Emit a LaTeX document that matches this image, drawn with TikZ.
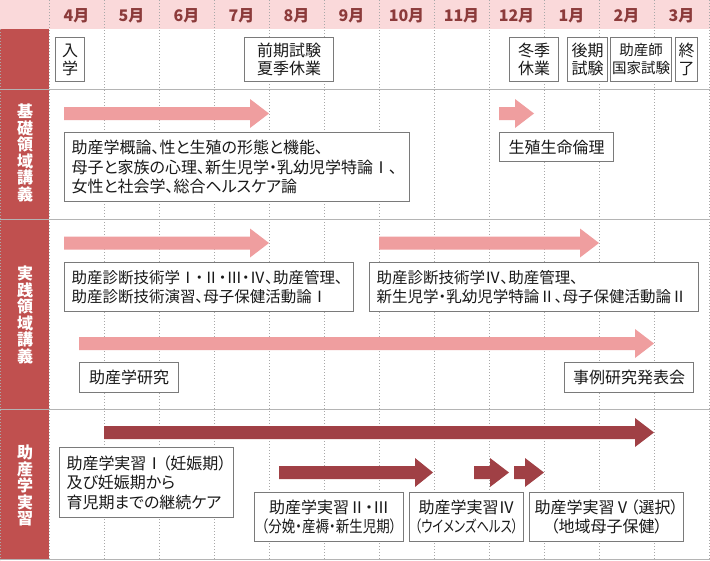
\documentclass[tikz,border=0pt]{standalone}
\usepackage{graphicx}
\usepackage{fontspec}
\newfontfamily\jpfont[RawFeature={+palt}]{Noto Sans CJK JP}
\definecolor{hdrpink}{HTML}{FAD9DA}
\definecolor{colred}{HTML}{C0504F}
\definecolor{arrpink}{HTML}{EF9E9F}
\definecolor{arrdark}{HTML}{A04045}
\definecolor{monthred}{HTML}{8C3B3B}
\definecolor{gridgray}{HTML}{A8A8A8}
\definecolor{linegray}{HTML}{B4B4B4}
\definecolor{boxgray}{HTML}{7A7A7A}
\newcommand\tlarrow[5]{\fill[#5] (#1,#4-6.5) -- (#2,#4-6.5) -- (#2,#4-14.5) -- (#3,#4) -- (#2,#4+14.5) -- (#2,#4+6.5) -- (#1,#4+6.5) -- cycle;}
\newcommand\fitline[2]{\resizebox{#1}{\height}{#2}}
\begin{document}
\begin{tikzpicture}[x=1pt,y=-1pt,
  box/.style={draw=boxgray, line width=1pt, fill=white, inner sep=0pt, align=center, text=black!90,
    font=\jpfont\fontsize{16}{18.5}\selectfont},
  topbox/.style={box, font=\jpfont\fontsize{16}{18}\selectfont},
  leftbox/.style={box, align=left, inner xsep=7pt, font=\jpfont\fontsize{16}{19.5}\selectfont},
  month/.style={font=\jpfont\bfseries\fontsize{16}{16}\selectfont, text=monthred},
  sidelabel/.style={font=\jpfont\bfseries\fontsize{16}{16.5}\selectfont, text=white, align=center},
  gridline/.style={draw=gridgray, line width=0.8pt, dash pattern=on 1pt off 2pt},
  rowline/.style={draw=linegray, line width=1pt}
]
\useasboundingbox (0,0) rectangle (710,560);
\fill[white] (0,0) rectangle (710,560);
% header and side column
\fill[hdrpink] (0,0) rectangle (710,29);
\fill[colred] (0,29) rectangle (49,560);
% dotted month grid
\foreach \k in {0,...,12} {
  \draw[gridline] ({49+55*\k},0) -- ({49+55*\k},560);
}
\draw[gridline] (0.5,29) -- (0.5,560);
% row separators
\foreach \yy in {89,219,409,559} {
  \draw[rowline] (0,\yy) -- (710,\yy);
}
% months
\foreach \m [count=\i from 0] in {4月,5月,6月,7月,8月,9月,10月,11月,12月,1月,2月,3月} {
  \node[month] (m\i) at ({76.5+55*\i},15.5) {\m};
}
% side labels
\node[sidelabel] (s1) at (25,153) {基\\礎\\領\\域\\講\\義};
\node[sidelabel] (s2) at (25,315) {実\\践\\領\\域\\講\\義};
\node[sidelabel] (s3) at (25,485.5) {助\\産\\学\\実\\習};
% top row events
\node[topbox, minimum width=29, minimum height=44, anchor=north west] (t1) at (55,37) {入\\学};
\node[topbox, minimum width=89, minimum height=44, anchor=north west] (t2) at (244,37) {前期試験\\夏季休業};
\node[topbox, minimum width=49, minimum height=44, anchor=north west] (t3) at (509,37) {冬季\\休業};
\node[topbox, minimum width=40, minimum height=44, anchor=north west] (t4) at (567,37) {後期\\試験};
\node[topbox, minimum width=61, minimum height=44, anchor=north west, font=\jpfont\fontsize{14.5}{18}\selectfont] (t5) at (610,37) {助産師\\国家試験};
\node[topbox, minimum width=22, minimum height=44, anchor=north west] (t6) at (675,37) {終\\了};
% arrows
\tlarrow{64}{250}{269}{113.5}{arrpink}
\tlarrow{499}{515}{534}{113.5}{arrpink}
\tlarrow{64}{250}{269}{243}{arrpink}
\tlarrow{379}{580}{599}{243}{arrpink}
\tlarrow{79}{635}{654}{343.5}{arrpink}
\tlarrow{104}{635}{654}{432.5}{arrdark}
\tlarrow{279}{415}{433}{472.5}{arrdark}
\tlarrow{474}{490}{509}{472.5}{arrdark}
\tlarrow{514}{525}{544}{472.5}{arrdark}
% basic lectures
\node[leftbox, text width=331, minimum height=69, anchor=north west] (b1) at (64,132)
  {助産学概論、性と生殖の形態と機能、\\母子と家族の心理、新生児学・乳幼児学特論Ⅰ、\\女性と社会学、総合ヘルスケア論};
\node[box, minimum width=114, minimum height=29, anchor=north west] (b2) at (499,132) {生殖生命倫理};
% practical lectures
\node[leftbox, text width=275, minimum height=49, anchor=north west, font=\jpfont\fontsize{15.5}{19}\selectfont] (p1) at (64,262)
  {助産診断技術学Ⅰ・Ⅱ・Ⅲ・Ⅳ、助産管理、\\助産診断技術演習、母子保健活動論Ⅰ};
\node[leftbox, text width=315, minimum height=49, anchor=north west, font=\jpfont\fontsize{15.5}{19}\selectfont] (p2) at (369,262)
  {助産診断技術学Ⅳ、助産管理、\\新生児学・乳幼児学特論Ⅱ、母子保健活動論Ⅱ};
\node[box, minimum width=99, minimum height=30, anchor=north west] (p3) at (79,362) {助産学研究};
\node[box, minimum width=129, minimum height=30, anchor=north west] (p4) at (564,362) {事例研究発表会};
% practicum
\node[leftbox, text width=160, minimum height=70, anchor=north west] (j1) at (59,447)
  {助産学実習Ⅰ（妊娠期）\\及び妊娠期から\\育児期までの継続ケア};
\node[box, minimum width=149, minimum height=49, anchor=north west] (j2) at (254,492)
  {助産学実習Ⅱ・Ⅲ\\\fitline{135pt}{（分娩・産褥・新生児期）}};
\node[box, minimum width=114, minimum height=49, anchor=north west] (j3) at (409,492)
  {助産学実習Ⅳ\\\fitline{103pt}{（ウイメンズヘルス）}};
\node[box, minimum width=154, minimum height=49, anchor=north west] (j4) at (529,492)
  {助産学実習Ⅴ（選択）\\（地域母子保健）};
\end{tikzpicture}
\end{document}
